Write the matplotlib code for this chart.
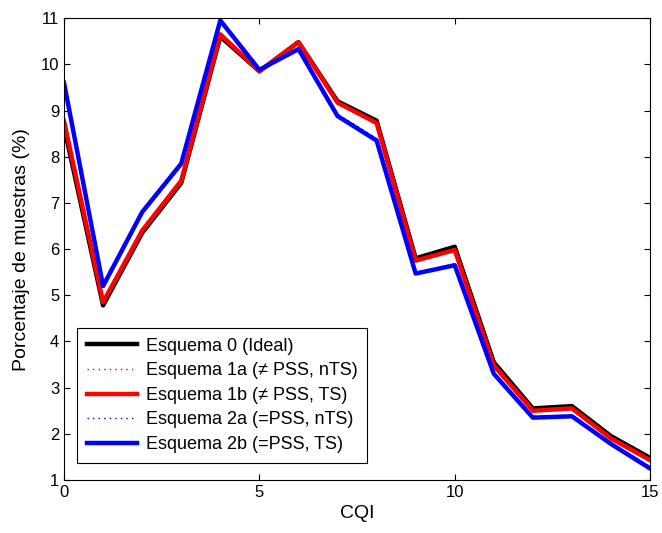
import numpy as np
import matplotlib.pyplot as plt

plt.rcParams['font.family'] = ['Liberation Sans', 'DejaVu Sans']

cqi = np.arange(16)

esq0 = [8.65, 4.78, 6.35, 7.43, 10.60, 9.85, 10.48, 9.20, 8.78, 5.80, 6.05, 3.55, 2.55, 2.60, 1.95, 1.48]
esq1a = [8.72, 4.83, 6.38, 7.46, 10.63, 9.85, 10.48, 9.18, 8.75, 5.77, 6.01, 3.51, 2.52, 2.57, 1.92, 1.45]
esq1b = [8.77, 4.85, 6.40, 7.48, 10.65, 9.85, 10.48, 9.17, 8.73, 5.75, 5.98, 3.48, 2.50, 2.55, 1.90, 1.43]
esq2a = [9.50, 5.15, 6.75, 7.80, 10.90, 9.87, 10.35, 8.92, 8.40, 5.50, 5.68, 3.33, 2.38, 2.41, 1.81, 1.29]
esq2b = [9.60, 5.20, 6.80, 7.85, 10.95, 9.88, 10.33, 8.88, 8.35, 5.47, 5.65, 3.30, 2.35, 2.38, 1.78, 1.25]

etiquetas = ['Esquema 0 (Ideal)',
             'Esquema 1a (\u2260 PSS, nTS)',
             'Esquema 1b (\u2260 PSS, TS)',
             'Esquema 2a (=PSS, nTS)',
             'Esquema 2b (=PSS, TS)']

fig = plt.figure(figsize=(6.62, 5.33), dpi=100)
ax = fig.add_axes([0.0967, 0.0994, 0.8853, 0.8666])

punteada = (0, (1, 3))
ax.plot(cqi, esq0, color='k', lw=3.2, label=etiquetas[0])
ax.plot(cqi, esq1a, color='r', lw=1, ls=punteada, label=etiquetas[1])
ax.plot(cqi, esq1b, color='r', lw=3.2, label=etiquetas[2])
ax.plot(cqi, esq2a, color='b', lw=1, ls=punteada, label=etiquetas[3])
ax.plot(cqi, esq2b, color='b', lw=3.2, label=etiquetas[4])

ax.set_xlim(0, 15)
ax.set_ylim(1, 11)
ax.set_xticks([0, 5, 10, 15])
ax.set_yticks(range(1, 12))
ax.tick_params(direction='in', top=True, right=True, labelsize=12, length=4)
ax.set_xlabel('CQI', fontsize=14)
ax.set_ylabel('Porcentaje de muestras (%)', fontsize=14, labelpad=8)

leg = ax.legend(loc='lower left', bbox_to_anchor=(0.022, 0.037), fontsize=13,
                fancybox=False, edgecolor='k', framealpha=1, handlelength=2.8,
                handletextpad=0.45, labelspacing=0.42, borderpad=0.55,
                borderaxespad=0)
leg.get_frame().set_linewidth(0.8)

fig.savefig('out.png', dpi=100)
